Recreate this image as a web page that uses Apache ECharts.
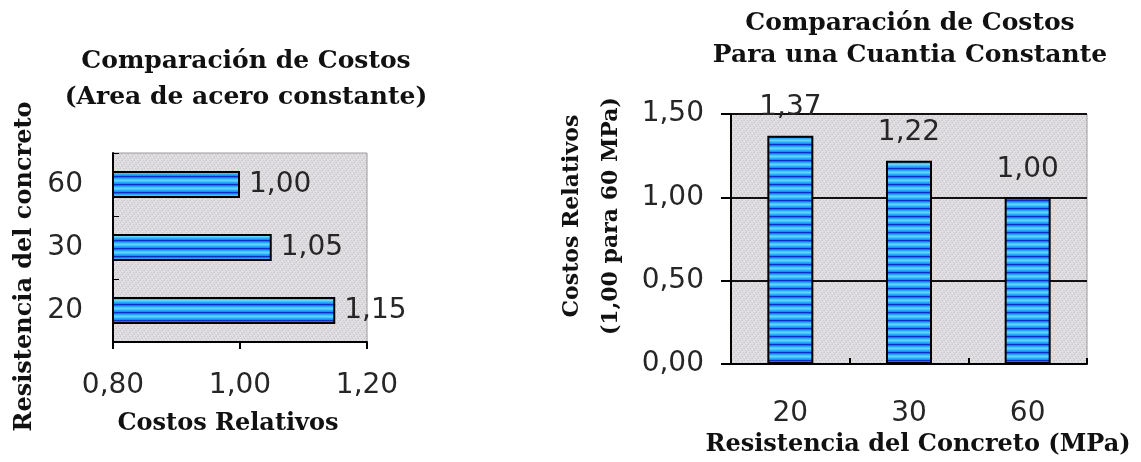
<!DOCTYPE html>
<html>
<head>
<meta charset="utf-8">
<script src="https://cdn.jsdelivr.net/npm/echarts@6/dist/echarts.min.js"></script>
<style>
  html, body { margin: 0; padding: 0; background: #ffffff; }
  #chart { width: 1141px; height: 462px; }
</style>
</head>
<body>
<div id="chart"></div>
<script>
// Costos relativos con área de acero constante (barras horizontales)
const leftCategories = ['20', '30', '60'];
const leftValues = [1.15, 1.05, 1.00];
const leftAxisMin = 0.8;
const leftAxisMax = 1.2;
const leftAxisStep = 0.2;

// Costos relativos para una cuantía constante (1,00 para 60 MPa)
const rightCategories = ['20', '30', '60'];
const rightValues = [1.37, 1.22, 1.00];
const rightAxisMin = 0;
const rightAxisMax = 1.5;
const rightAxisStep = 0.5;

const SERIF = '"DejaVu Serif", "Liberation Serif", serif';
const SANS = '"DejaVu Sans", "Liberation Sans", sans-serif';

// decimal comma, two places
const fmt = v => Number(v).toFixed(2).replace('.', ',');

// horizontal blue stripes for the bars
function stripePattern() {
  const c = document.createElement('canvas');
  c.width = 4; c.height = 8;
  const g = c.getContext('2d');
  const rows = ['#1030c4', '#1c72ee', '#28a8ff', '#42c2ff', '#62d6ff', '#42c2ff', '#28a8ff', '#1c8cf8'];
  rows.forEach((col, i) => { g.fillStyle = col; g.fillRect(0, i, 4, 1); });
  return c;
}

// fine grey grain used as plot-area fill
function greyPattern() {
  const c = document.createElement('canvas');
  c.width = 6; c.height = 6;
  const g = c.getContext('2d');
  g.fillStyle = '#e2e0e3';
  g.fillRect(0, 0, 6, 6);
  g.fillStyle = '#c9c7cb';
  for (let i = 0; i < 6; i++) {
    g.fillRect(i, (i * 2) % 6, 1, 1);
  }
  g.fillStyle = '#d3d1d5';
  for (let i = 0; i < 6; i++) {
    g.fillRect(i, (11 - i) % 6, 1, 1);
  }
  return c;
}

const barFill = { image: stripePattern(), repeat: 'repeat' };
const plotFill = { image: greyPattern(), repeat: 'repeat' };

const chart = echarts.init(document.getElementById('chart'), null, { renderer: 'canvas' });

const axisText = { fontFamily: SANS, fontSize: 28, color: '#262626' };
const nameText = { fontFamily: SERIF, fontWeight: 'bold', color: '#111' };

chart.setOption({
  backgroundColor: '#ffffff',
  animation: false,
  title: [
    {
      text: 'Comparación de Costos\n(Area de acero constante)',
      left: 246, top: 43, padding: 0, textAlign: 'center',
      textStyle: { fontFamily: SERIF, fontWeight: 'bold', fontSize: 25, lineHeight: 36, color: '#111' }
    },
    {
      text: 'Comparación de Costos\nPara una Cuantia Constante',
      left: 910, top: 7, padding: 0, textAlign: 'center',
      textStyle: { fontFamily: SERIF, fontWeight: 'bold', fontSize: 25, lineHeight: 32, color: '#111' }
    }
  ],
  grid: [
    { left: 113, right: 774, top: 153, bottom: 120, show: true, backgroundColor: plotFill, borderColor: '#9a9a9a', borderWidth: 1 },
    { left: 731, right: 54, top: 114, bottom: 91, show: true, backgroundColor: plotFill, borderColor: '#9a9a9a', borderWidth: 1 }
  ],
  xAxis: [
    {
      gridIndex: 0, type: 'value', min: leftAxisMin, max: leftAxisMax, interval: leftAxisStep,
      axisLine: { show: true, lineStyle: { color: '#000', width: 2 } },
      axisTick: { show: true, inside: false, length: 7, lineStyle: { color: '#000', width: 2 } },
      axisLabel: Object.assign({ formatter: fmt, margin: 30 }, axisText),
      splitLine: { show: false },
      name: 'Costos Relativos', nameLocation: 'middle', nameGap: 70,
      nameTextStyle: Object.assign({ fontSize: 24, padding: [0, 24, 0, 0] }, nameText)
    },
    {
      gridIndex: 1, type: 'category', data: rightCategories,
      axisLine: { show: true, lineStyle: { color: '#000', width: 2 } },
      axisTick: { show: true, inside: true, length: 6, alignWithLabel: false, lineStyle: { color: '#000', width: 2 } },
      axisLabel: Object.assign({ margin: 36 }, axisText),
      name: 'Resistencia del Concreto (MPa)', nameLocation: 'middle', nameGap: 68,
      nameTextStyle: Object.assign({ fontSize: 24, padding: [0, 0, 0, 18] }, nameText)
    }
  ],
  yAxis: [
    {
      gridIndex: 0, type: 'category', data: leftCategories,
      axisLine: { show: true, lineStyle: { color: '#000', width: 2 } },
      axisTick: { show: true, inside: true, length: 6, alignWithLabel: false, lineStyle: { color: '#000', width: 1 } },
      axisLabel: Object.assign({ margin: 30 }, axisText),
      name: 'Resistencia del concreto', nameLocation: 'middle', nameGap: 76,
      nameTextStyle: Object.assign({ fontSize: 24, padding: [0, 38, 0, 0] }, nameText)
    },
    {
      gridIndex: 1, type: 'value', min: rightAxisMin, max: rightAxisMax, interval: rightAxisStep,
      axisLine: { show: true, lineStyle: { color: '#000', width: 2 } },
      axisTick: { show: true, inside: false, length: 10, lineStyle: { color: '#000', width: 2 } },
      axisLabel: Object.assign({ formatter: fmt, margin: 27 }, axisText),
      splitLine: { show: true, lineStyle: { color: '#111', width: 2 } },
      name: 'Costos Relativos\n(1,00 para 60 MPa)', nameLocation: 'middle', nameGap: 100,
      nameTextStyle: Object.assign({ fontSize: 22, lineHeight: 39, padding: [0, 0, 0, 46] }, nameText)
    }
  ],
  series: [
    {
      type: 'bar', xAxisIndex: 0, yAxisIndex: 0, data: leftValues,
      barWidth: 27,
      itemStyle: { color: barFill, borderColor: '#000', borderWidth: 2 },
      label: { show: true, position: 'right', distance: 9, formatter: p => fmt(p.value), fontFamily: SANS, fontSize: 28, color: '#262626' }
    },
    {
      type: 'bar', xAxisIndex: 1, yAxisIndex: 1, data: rightValues,
      barWidth: 46,
      itemStyle: { color: barFill, borderColor: '#000', borderWidth: 2 },
      label: { show: true, position: 'top', distance: 14, formatter: p => fmt(p.value), fontFamily: SANS, fontSize: 28, color: '#262626' }
    }
  ]
});
</script>
</body>
</html>
